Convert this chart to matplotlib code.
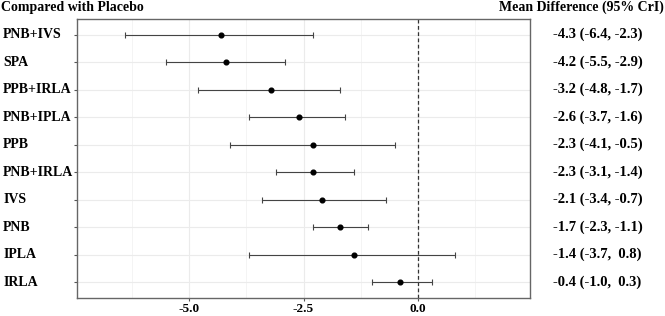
import matplotlib
matplotlib.use('Agg')
import matplotlib.pyplot as plt
from matplotlib.ticker import MultipleLocator

treatments = ['PNB+IVS', 'SPA', 'PPB+IRLA', 'PNB+IPLA', 'PPB',
              'PNB+IRLA', 'IVS', 'PNB', 'IPLA', 'IRLA']
mean_diff = [-4.3, -4.2, -3.2, -2.6, -2.3, -2.3, -2.1, -1.7, -1.4, -0.4]
lower = [-6.4, -5.5, -4.8, -3.7, -4.1, -3.1, -3.4, -2.3, -3.7, -1.0]
upper = [-2.3, -2.9, -1.7, -1.6, -0.5, -1.4, -0.7, -1.1, 0.8, 0.3]

plt.rcParams['font.family'] = ['Liberation Serif', 'DejaVu Serif']
plt.rcParams['font.weight'] = 'bold'

fig = plt.figure(figsize=(6.65, 3.16), dpi=100)
ax = fig.add_axes([77/665, 18/316, 453/665, 279/316])

n = len(treatments)
ypos = [n - i for i in range(n)]
xerr = [[m - l for m, l in zip(mean_diff, lower)],
        [u - m for m, u in zip(mean_diff, upper)]]
ax.errorbar(mean_diff, ypos, xerr=xerr, fmt='o', color='black', ms=3.4,
            ecolor='#444444', elinewidth=0.8, capsize=2, capthick=0.8, zorder=3)
ax.axvline(0, color='#333333', linestyle=(0, (3, 2)), linewidth=0.9, zorder=2)

ax.set_xlim(-7.45, 2.45)
ax.set_ylim(0.42, 10.57)
ax.xaxis.set_minor_locator(MultipleLocator(1.25))
ax.set_xticks([-5.0, -2.5, 0.0])
ax.set_xticklabels(['-5.0', '-2.5', '0.0'], fontsize=9.5, fontweight='bold')
ax.set_yticks(ypos)
ax.set_yticklabels([])
ax.grid(which='major', color='#ebebeb', linewidth=0.8)
ax.grid(which='minor', axis='x', color='#f3f3f3', linewidth=0.6)
ax.set_axisbelow(True)
ax.tick_params(which='minor', length=0)
ax.tick_params(which='major', length=2.5, color='#555555', width=0.8, pad=1)
for s in ax.spines.values():
    s.set_color('#666666')
    s.set_linewidth(1.0)

for y, name in zip(ypos, treatments):
    ax.text(-0.163, y, name, transform=ax.get_yaxis_transform(),
            ha='left', va='center', fontsize=10, fontweight='bold')

for y, m, l, u in zip(ypos, mean_diff, lower, upper):
    lab = '%.1f (%.1f, %4.1f)' % (m, l, u)
    ax.text(1.05, y, lab, transform=ax.get_yaxis_transform(),
            ha='left', va='center', fontsize=10.5, fontweight='bold')

fig.text(1/665, 1 - 7/316, 'Compared with Placebo', ha='left', va='center',
         fontsize=10, fontweight='bold')
fig.text(664/665, 1 - 7/316, 'Mean Difference (95% CrI)', ha='right', va='center',
         fontsize=10, fontweight='bold')

fig.savefig('out.png', dpi=100)
